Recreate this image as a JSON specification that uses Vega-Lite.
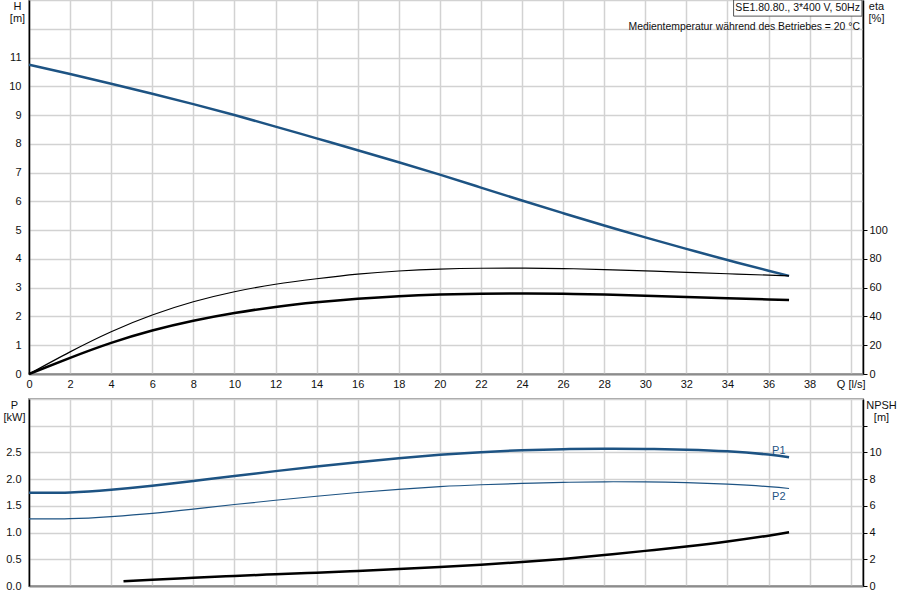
{
  "$schema": "https://vega.github.io/schema/vega-lite/v6.json",
  "padding": {"left": 2, "top": -2, "right": 0, "bottom": 0},
  "bounds": "flush",
  "spacing": 25,
  "config": {
    "font": "Liberation Sans",
    "view": {"stroke": "#a0a0a0", "strokeWidth": 2},
    "axis": {
      "labelFont": "Liberation Sans",
      "labelFontSize": 11,
      "labelColor": "#111",
      "titleFont": "Liberation Sans",
      "titleFontSize": 11,
      "titleFontWeight": "normal",
      "titleColor": "#111",
      "gridColor": "#d2d2d2",
      "gridWidth": 1.5,
      "labelOverlap": false,
      "labelFlush": false
    }
  },
  "datasets": {
    "curves": [
      {"s": "H", "q": 0, "v": 10.75}, {"s": "H", "q": 2, "v": 10.43}, {"s": "H", "q": 4, "v": 10.09},
      {"s": "H", "q": 6, "v": 9.74}, {"s": "H", "q": 8, "v": 9.38}, {"s": "H", "q": 10, "v": 9.0},
      {"s": "H", "q": 12, "v": 8.6}, {"s": "H", "q": 14, "v": 8.19}, {"s": "H", "q": 16, "v": 7.78},
      {"s": "H", "q": 18, "v": 7.36}, {"s": "H", "q": 20, "v": 6.93}, {"s": "H", "q": 22, "v": 6.48},
      {"s": "H", "q": 24, "v": 6.03}, {"s": "H", "q": 26, "v": 5.59}, {"s": "H", "q": 28, "v": 5.16},
      {"s": "H", "q": 30, "v": 4.75}, {"s": "H", "q": 32, "v": 4.35}, {"s": "H", "q": 34, "v": 3.96},
      {"s": "H", "q": 36, "v": 3.59}, {"s": "H", "q": 37, "v": 3.41},
      {"s": "eta_pump", "q": 0, "v": 0}, {"s": "eta_pump", "q": 2, "v": 15.4}, {"s": "eta_pump", "q": 4, "v": 29.4},
      {"s": "eta_pump", "q": 6, "v": 41}, {"s": "eta_pump", "q": 8, "v": 50.2}, {"s": "eta_pump", "q": 10, "v": 57.2},
      {"s": "eta_pump", "q": 12, "v": 62.4}, {"s": "eta_pump", "q": 14, "v": 66.2}, {"s": "eta_pump", "q": 16, "v": 69.4},
      {"s": "eta_pump", "q": 18, "v": 71.6}, {"s": "eta_pump", "q": 20, "v": 72.9}, {"s": "eta_pump", "q": 22, "v": 73.5},
      {"s": "eta_pump", "q": 24, "v": 73.6}, {"s": "eta_pump", "q": 26, "v": 73.3}, {"s": "eta_pump", "q": 28, "v": 72.6},
      {"s": "eta_pump", "q": 30, "v": 71.7}, {"s": "eta_pump", "q": 32, "v": 70.7}, {"s": "eta_pump", "q": 34, "v": 69.7},
      {"s": "eta_pump", "q": 36, "v": 68.7}, {"s": "eta_pump", "q": 37, "v": 68.2},
      {"s": "eta_total", "q": 0, "v": 0}, {"s": "eta_total", "q": 2, "v": 11.2}, {"s": "eta_total", "q": 4, "v": 21.6},
      {"s": "eta_total", "q": 6, "v": 30.2}, {"s": "eta_total", "q": 8, "v": 37}, {"s": "eta_total", "q": 10, "v": 42.4},
      {"s": "eta_total", "q": 12, "v": 46.6}, {"s": "eta_total", "q": 14, "v": 49.8}, {"s": "eta_total", "q": 16, "v": 52.3},
      {"s": "eta_total", "q": 18, "v": 54.1}, {"s": "eta_total", "q": 20, "v": 55.2}, {"s": "eta_total", "q": 22, "v": 55.8},
      {"s": "eta_total", "q": 24, "v": 56}, {"s": "eta_total", "q": 26, "v": 55.8}, {"s": "eta_total", "q": 28, "v": 55.2},
      {"s": "eta_total", "q": 30, "v": 54.4}, {"s": "eta_total", "q": 32, "v": 53.5}, {"s": "eta_total", "q": 34, "v": 52.6},
      {"s": "eta_total", "q": 36, "v": 51.8}, {"s": "eta_total", "q": 37, "v": 51.4},
      {"s": "P1", "q": 0, "v": 1.745}, {"s": "P1", "q": 2, "v": 1.75}, {"s": "P1", "q": 4, "v": 1.8},
      {"s": "P1", "q": 6, "v": 1.875}, {"s": "P1", "q": 8, "v": 1.965}, {"s": "P1", "q": 10, "v": 2.06},
      {"s": "P1", "q": 12, "v": 2.15}, {"s": "P1", "q": 14, "v": 2.235}, {"s": "P1", "q": 16, "v": 2.315},
      {"s": "P1", "q": 18, "v": 2.39}, {"s": "P1", "q": 20, "v": 2.455}, {"s": "P1", "q": 22, "v": 2.505},
      {"s": "P1", "q": 24, "v": 2.54}, {"s": "P1", "q": 26, "v": 2.56}, {"s": "P1", "q": 28, "v": 2.568},
      {"s": "P1", "q": 30, "v": 2.565}, {"s": "P1", "q": 32, "v": 2.55}, {"s": "P1", "q": 34, "v": 2.52},
      {"s": "P1", "q": 36, "v": 2.46}, {"s": "P1", "q": 37, "v": 2.41},
      {"s": "P2", "q": 0, "v": 1.255}, {"s": "P2", "q": 2, "v": 1.26}, {"s": "P2", "q": 4, "v": 1.3},
      {"s": "P2", "q": 6, "v": 1.36}, {"s": "P2", "q": 8, "v": 1.44}, {"s": "P2", "q": 10, "v": 1.525},
      {"s": "P2", "q": 12, "v": 1.605}, {"s": "P2", "q": 14, "v": 1.68}, {"s": "P2", "q": 16, "v": 1.75},
      {"s": "P2", "q": 18, "v": 1.81}, {"s": "P2", "q": 20, "v": 1.86}, {"s": "P2", "q": 22, "v": 1.895},
      {"s": "P2", "q": 24, "v": 1.92}, {"s": "P2", "q": 26, "v": 1.94}, {"s": "P2", "q": 28, "v": 1.95},
      {"s": "P2", "q": 30, "v": 1.95}, {"s": "P2", "q": 32, "v": 1.935}, {"s": "P2", "q": 34, "v": 1.905},
      {"s": "P2", "q": 36, "v": 1.86}, {"s": "P2", "q": 37, "v": 1.825},
      {"s": "NPSH", "q": 4.6, "v": 0.35}, {"s": "NPSH", "q": 6, "v": 0.47}, {"s": "NPSH", "q": 8, "v": 0.62},
      {"s": "NPSH", "q": 10, "v": 0.75}, {"s": "NPSH", "q": 12, "v": 0.88}, {"s": "NPSH", "q": 14, "v": 1.0},
      {"s": "NPSH", "q": 16, "v": 1.13}, {"s": "NPSH", "q": 18, "v": 1.27}, {"s": "NPSH", "q": 20, "v": 1.42},
      {"s": "NPSH", "q": 22, "v": 1.59}, {"s": "NPSH", "q": 24, "v": 1.79}, {"s": "NPSH", "q": 26, "v": 2.03},
      {"s": "NPSH", "q": 28, "v": 2.32}, {"s": "NPSH", "q": 30, "v": 2.63}, {"s": "NPSH", "q": 32, "v": 2.96},
      {"s": "NPSH", "q": 34, "v": 3.33}, {"s": "NPSH", "q": 36, "v": 3.77}, {"s": "NPSH", "q": 37, "v": 4.03}
    ]
  },
  "vconcat": [
    {
      "width": 834,
      "height": 374,
      "data": {"name": "curves"},
      "layer": [
        {
          "transform": [{"filter": "datum.s == 'H'"}],
          "mark": {"type": "line", "color": "#1d5383", "strokeWidth": 2.5, "interpolate": "natural"},
          "encoding": {
            "x": {"field": "q", "type": "quantitative", "scale": {"domain": [0, 40.6], "nice": false},
              "axis": {"values": [0, 2, 4, 6, 8, 10, 12, 14, 16, 18, 20, 22, 24, 26, 28, 30, 32, 34, 36, 38, 40],
                "labelExpr": "datum.value == 40 ? 'Q [l/s]' : datum.label", "title": null, "ticks": false,
                "labelPadding": 4, "domainColor": "#8c8c8c", "domainWidth": 2,
                "encode": {"labels": {"update": {"dx": {"signal": "datum.value == 40 ? -6 : 0"}}}}}},
            "y": {"field": "v", "type": "quantitative", "scale": {"domain": [0, 13], "nice": false},
              "axis": {"values": [0, 1, 2, 3, 4, 5, 6, 7, 8, 9, 10, 11, 12, 13],
                "labelExpr": "datum.value <= 11 ? datum.label : ''",
                "labelFontSize": {"condition": {"test": "datum.value > 11", "value": 0}, "value": 11},
                "ticks": false, "labelPadding": 8,
                "domainColor": "#000", "domainWidth": 1.5,
                "title": ["H", "[m]"], "titleAngle": 0, "titleAlign": "center", "titleBaseline": "top",
                "titleX": -12, "titleY": 0, "titleLineHeight": 12}}
          }
        },
        {
          "transform": [{"filter": "datum.s == 'eta_pump'"}],
          "mark": {"type": "line", "color": "#000", "strokeWidth": 1.2, "interpolate": "natural"},
          "encoding": {
            "x": {"field": "q", "type": "quantitative", "scale": {"domain": [0, 40.6], "nice": false}},
            "y": {"field": "v", "type": "quantitative", "scale": {"domain": [0, 260], "nice": false},
              "axis": {"orient": "right", "values": [0, 20, 40, 60, 80, 100], "grid": false,
                "tickSize": 4, "tickColor": "#000", "labelPadding": 2, "domainColor": "#000", "domainWidth": 1.5,
                "title": ["eta", "[%]"], "titleAngle": 0, "titleAlign": "center", "titleBaseline": "top",
                "titleX": 13, "titleY": 0, "titleLineHeight": 12}}
          }
        },
        {
          "transform": [{"filter": "datum.s == 'eta_total'"}],
          "mark": {"type": "line", "color": "#000", "strokeWidth": 2.5, "interpolate": "natural"},
          "encoding": {
            "x": {"field": "q", "type": "quantitative", "scale": {"domain": [0, 40.6], "nice": false}},
            "y": {"field": "v", "type": "quantitative", "scale": {"domain": [0, 260], "nice": false}, "axis": null}
          }
        },
        {
          "data": {"values": [{}]},
          "mark": {"type": "rect", "fill": "#fff", "stroke": "#555", "strokeWidth": 1},
          "encoding": {
            "x": {"datum": 34.3, "type": "quantitative", "scale": {"domain": [0, 40.6], "nice": false}},
            "x2": {"datum": 40.55},
            "y": {"datum": 13, "type": "quantitative", "scale": {"domain": [0, 13], "nice": false}, "axis": null},
            "y2": {"datum": 12.44}
          }
        },
        {
          "data": {"values": [{}]},
          "mark": {"type": "text", "align": "right", "baseline": "middle", "fontSize": 10.5, "color": "#111"},
          "encoding": {
            "x": {"datum": 40.45, "type": "quantitative", "scale": {"domain": [0, 40.6], "nice": false}},
            "y": {"datum": 12.72, "type": "quantitative", "scale": {"domain": [0, 13], "nice": false}, "axis": null},
            "text": {"value": "SE1.80.80., 3*400 V, 50Hz"}
          }
        },
        {
          "data": {"values": [{}]},
          "mark": {"type": "text", "align": "right", "baseline": "middle", "fontSize": 10.4, "color": "#111"},
          "encoding": {
            "x": {"datum": 40.45, "type": "quantitative", "scale": {"domain": [0, 40.6], "nice": false}},
            "y": {"datum": 12.06, "type": "quantitative", "scale": {"domain": [0, 13], "nice": false}, "axis": null},
            "text": {"value": "Medientemperatur während des Betriebes = 20 °C"}
          }
        }
      ],
      "resolve": {"scale": {"y": "independent"}}
    },
    {
      "width": 834,
      "height": 187,
      "data": {"name": "curves"},
      "layer": [
        {
          "transform": [{"filter": "datum.s == 'P1'"}],
          "mark": {"type": "line", "color": "#1d5383", "strokeWidth": 2.5, "interpolate": "natural"},
          "encoding": {
            "x": {"field": "q", "type": "quantitative", "scale": {"domain": [0, 40.6], "nice": false},
              "axis": {"values": [0, 2, 4, 6, 8, 10, 12, 14, 16, 18, 20, 22, 24, 26, 28, 30, 32, 34, 36, 38, 40],
                "labels": false, "title": null, "ticks": false, "domainColor": "#8c8c8c", "domainWidth": 2}},
            "y": {"field": "v", "type": "quantitative", "scale": {"domain": [0, 3.5], "nice": false},
              "axis": {"values": [0, 0.5, 1, 1.5, 2, 2.5, 3, 3.5], "format": ".1f",
                "labelExpr": "datum.value <= 2.5 ? datum.label : ''",
                "labelFontSize": {"condition": {"test": "datum.value > 2.5", "value": 0}, "value": 11},
                "ticks": false, "labelPadding": 8,
                "domainColor": "#000", "domainWidth": 1.5,
                "title": ["P", "[kW]"], "titleAngle": 0, "titleAlign": "center", "titleBaseline": "top",
                "titleX": -15, "titleY": 0, "titleLineHeight": 12}}
          }
        },
        {
          "transform": [{"filter": "datum.s == 'NPSH'"}],
          "mark": {"type": "line", "color": "#000", "strokeWidth": 2.5, "interpolate": "natural"},
          "encoding": {
            "x": {"field": "q", "type": "quantitative", "scale": {"domain": [0, 40.6], "nice": false}},
            "y": {"field": "v", "type": "quantitative", "scale": {"domain": [0, 14], "nice": false},
              "axis": {"orient": "right", "values": [0, 2, 4, 6, 8, 10, 12], "grid": false,
                "labelExpr": "datum.value <= 10 ? datum.label : ''",
                "tickSize": 4, "tickColor": "#000", "labelPadding": 2, "domainColor": "#000", "domainWidth": 1.5,
                "title": ["NPSH", "[m]"], "titleAngle": 0, "titleAlign": "center", "titleBaseline": "top",
                "titleX": 18, "titleY": 0, "titleLineHeight": 12}}
          }
        },
        {
          "transform": [{"filter": "datum.s == 'P2'"}],
          "mark": {"type": "line", "color": "#1d5383", "strokeWidth": 1.2, "interpolate": "natural"},
          "encoding": {
            "x": {"field": "q", "type": "quantitative", "scale": {"domain": [0, 40.6], "nice": false}},
            "y": {"field": "v", "type": "quantitative", "scale": {"domain": [0, 3.5], "nice": false}, "axis": null}
          }
        },
        {
          "data": {"values": [{}]},
          "mark": {"type": "text", "align": "center", "baseline": "middle", "fontSize": 11, "color": "#1d5383"},
          "encoding": {
            "x": {"datum": 36.5, "type": "quantitative", "scale": {"domain": [0, 40.6], "nice": false}},
            "y": {"datum": 2.53, "type": "quantitative", "scale": {"domain": [0, 3.5], "nice": false}, "axis": null},
            "text": {"value": "P1"}
          }
        },
        {
          "data": {"values": [{}]},
          "mark": {"type": "text", "align": "center", "baseline": "middle", "fontSize": 11, "color": "#1d5383"},
          "encoding": {
            "x": {"datum": 36.5, "type": "quantitative", "scale": {"domain": [0, 40.6], "nice": false}},
            "y": {"datum": 1.67, "type": "quantitative", "scale": {"domain": [0, 3.5], "nice": false}, "axis": null},
            "text": {"value": "P2"}
          }
        }
      ],
      "resolve": {"scale": {"y": "independent"}}
    }
  ]
}
